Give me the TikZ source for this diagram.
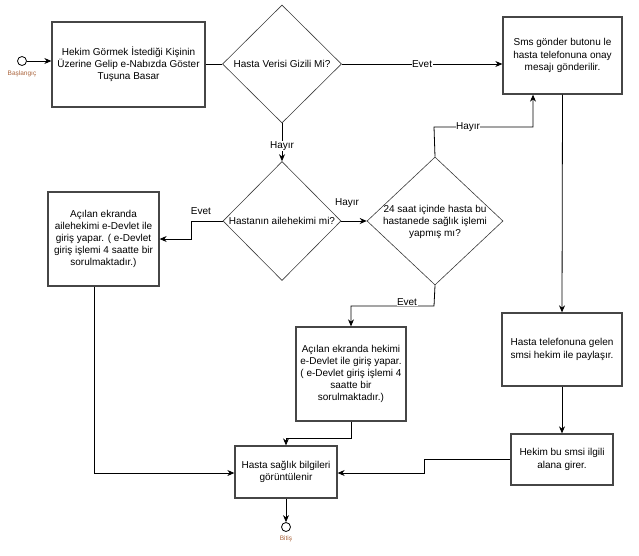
\documentclass[tikz,border=0pt]{standalone}
\usepackage{fontspec}
\setmainfont{Liberation Sans}
\usetikzlibrary{shapes.geometric,arrows.meta}
\begin{document}
\begin{tikzpicture}[x=1pt,y=-1pt,
  txt/.style={font=\fontsize{10}{12.2}\selectfont,align=center,text=black},
  box/.style={draw={rgb,255:red,70;green,70;blue,70},line width=1.3pt,rectangle,inner sep=0pt,txt},
  dia/.style={draw={rgb,255:red,60;green,60;blue,60},line width=0.6pt,diamond,inner sep=0pt,aspect=1},
  term/.style={circle,draw=black,line width=0.8pt,minimum size=9pt,inner sep=0pt},
  small/.style={font=\fontsize{6.5}{7}\selectfont,text={rgb,255:red,170;green,100;blue,60}},
  conn/.style={draw=black,line width=0.8pt},
  arr/.style={conn,-{Stealth[length=7pt,width=6pt]}},
  elab/.style={txt,fill=white,inner sep=0.5pt}]
\useasboundingbox (0,0) rectangle (639,555);

\node[term] (s) at (22,61) {};
\node[small] (sl) at (22,74) {Başlangıç};

\node[box,minimum width=153pt,minimum height=85pt] (b1) at (128.5,64.5)
  {Hekim Görmek İstediği Kişinin\\Üzerine Gelip e-Nabızda Göster\\Tuşuna Basar};
\node[dia,minimum width=119pt,minimum height=118pt] (d1) at (282,64) {};
\node[txt] (d1t) at (282,64) {Hasta Verisi Gizili Mi?};

\node[box,minimum width=119pt,minimum height=77pt] (sms) at (562.5,55.5)
  {Sms gönder butonu le\\hasta telefonuna onay\\mesajı gönderilir.};

\node[dia,minimum width=118pt,minimum height=119pt] (d2) at (282,221) {};
\node[txt] (d2t) at (282,221) {Hastanın ailehekimi mi?};

\node[dia,minimum width=136pt,minimum height=128pt] (d3) at (435,221) {};
\node[txt] (d3t) at (435,222) {24 saat içinde hasta bu\\hastanede sağlık işlemi\\yapmış mı?};

\node[box,minimum width=111pt,minimum height=94pt] (b2) at (103.5,239)
  {Açılan ekranda\\ailehekimi e-Devlet ile\\giriş yapar. ( e-Devlet\\giriş işlemi 4 saatte bir\\sorulmaktadır.)};

\node[box,minimum width=110pt,minimum height=94pt] (b3) at (351,374)
  {Açılan ekranda hekimi\\e-Devlet ile giriş yapar.\\( e-Devlet giriş işlemi 4\\saatte bir\\sorulmaktadır.)};

\node[box,minimum width=102pt,minimum height=52pt] (hs) at (286,472)
  {Hasta sağlık bilgileri\\görüntülenir};

\node[box,minimum width=120pt,minimum height=73pt] (ht) at (562,349.5)
  {Hasta telefonuna gelen\\smsi hekim ile paylaşır.};

\node[box,minimum width=102pt,minimum height=51pt] (hb) at (562,459.5)
  {Hekim bu smsi ilgili\\alana girer.};

\node[term] (e) at (286,527) {};
\node[small] (el) at (286,539) {Bitiş};

\coordinate (c1) at (191,221);
\coordinate (c2) at (434,127);
\coordinate (c3) at (533,127);
\coordinate (c4) at (434,306);
\coordinate (c5) at (351,306);
\coordinate (c6) at (351,438);
\coordinate (c7) at (94,473);
\coordinate (c8) at (424,459.5);

% connectors
\draw[arr] (s.east) -- (s.east -| b1.west);
\draw[conn] (b1.east |- d1.west) -- (d1.west);
\draw[arr] (d1.east) -- (sms.west |- d1.east) node[elab,pos=0.5] {Evet};
\draw[arr] (d1.south) -- (d2.north) node[elab,pos=0.6] {Hayır};
\draw[arr] (d2.west) -- (c1) |- (b2.east);
\node[txt] (l1) at (201,211) {Evet};
\draw[arr] (d2.east) -- (d3.west);
\node[txt] (l2) at (347,203) {Hayır};
\draw[arr] (d3.north) -- (c2) -- (c3) -- (c3 |- sms.south);
\node[elab] (l3) at (468,127) {Hayır};
\draw[arr] (d3.south) -- (c4) -- (c5) -- (b3.north);
\node[elab] (l4) at (407,302) {Evet};
\draw[arr] (b3.south) -- (c6) -| (hs.north);
\draw[arr] (b2.south -| c7) -- (c7) -- (hs.west |- c7);
\draw[arr] (sms.south) -- (ht.north);
\draw[arr] (ht.south) -- (hb.north);
\draw[arr] (hb.west) -- (c8) |- (hs.east |- c7);
\draw[arr] (hs.south) -- (e.north);
\end{tikzpicture}
\end{document}
